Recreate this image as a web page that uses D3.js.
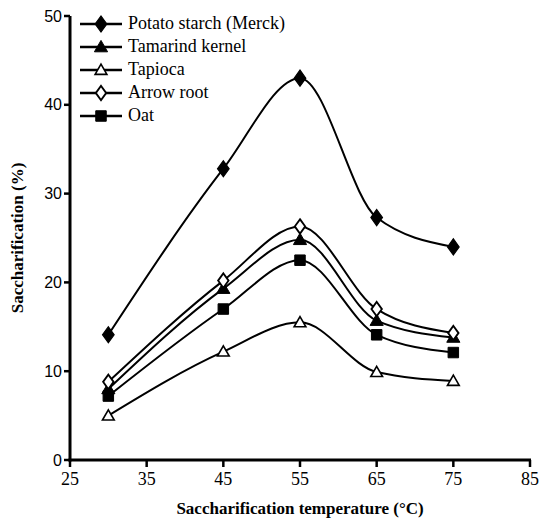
<!DOCTYPE html>
<html><head><meta charset="utf-8">
<script src="https://cdn.jsdelivr.net/npm/d3@7"></script>
</head><body style="margin:0;background:#fff">
<svg id="c" width="539" height="522" font-family="Liberation Serif"></svg>
<script>
const temps = [30, 45, 55, 65, 75];
const seriesNames = ["Potato starch (Merck)", "Tamarind kernel", "Tapioca", "Arrow root", "Oat"];
const potato = [14.1, 32.8, 43.0, 27.3, 24.0];
const tamarind = [8.0, 19.3, 24.8, 15.7, 13.8];
const tapioca = [5.0, 12.2, 15.5, 9.9, 8.9];
const arrowroot = [8.8, 20.2, 26.3, 17.0, 14.3];
const oat = [7.2, 17.0, 22.5, 14.1, 12.1];
const xTicks = [25, 35, 45, 55, 65, 75, 85];
const yTicks = [0, 10, 20, 30, 40, 50];
const markers = ["diamond", "triangle", "triangleOpen", "diamondOpen", "square"];
const allValues = [potato, tamarind, tapioca, arrowroot, oat];

const svg = d3.select("#c");
const x = d3.scaleLinear().domain([25, 85]).range([70, 530]);
const y = d3.scaleLinear().domain([0, 50]).range([460, 16]);

function drawMarker(g, type, cx, cy) {
  if (type.startsWith("diamond")) {
    const open = type === "diamondOpen";
    g.append("path").attr("d", d3.symbol(d3.symbolDiamond, open ? 60 : 75)()).attr("transform", `translate(${cx},${cy}) scale(1.25,1)`)
      .attr("fill", open ? "#fff" : "#000").attr("stroke", "#000").attr("stroke-width", open ? 1.6 : 1);
  } else if (type.startsWith("triangle")) {
    const open = type === "triangleOpen";
    g.append("path").attr("d", d3.symbol(d3.symbolTriangle, open ? 60 : 75)()).attr("transform", `translate(${cx},${cy + 1})`)
      .attr("fill", open ? "#fff" : "#000").attr("stroke", "#000").attr("stroke-width", open ? 1.6 : 1);
  } else {
    g.append("path").attr("d", d3.symbol(d3.symbolSquare, 110)()).attr("transform", `translate(${cx},${cy})`)
      .attr("fill", "#000").attr("stroke", "#000");
  }
}

// y axis (custom, sans labels)
const yAxis = svg.append("g").attr("transform", "translate(70,0)");
yAxis.append("path").attr("d", "M0,16V461.5").attr("stroke", "#000").attr("stroke-width", 3).attr("fill", "none");
yTicks.forEach(t => {
  yAxis.append("line").attr("x1", -6).attr("x2", 0).attr("y1", y(t)).attr("y2", y(t)).attr("stroke", "#000").attr("stroke-width", 2.5);
  yAxis.append("text").attr("x", -8).attr("y", y(t)).attr("dy", "0.35em").attr("text-anchor", "end")
    .attr("font-family", "Liberation Sans").attr("font-size", 16).attr("fill", "#000").text(t);
});

// x axis
const xAxis = svg.append("g").attr("transform", "translate(0,460)");
xAxis.append("path").attr("d", "M68.5,0H531").attr("stroke", "#000").attr("stroke-width", 3).attr("fill", "none");
xTicks.forEach(t => {
  xAxis.append("line").attr("x1", x(t)).attr("x2", x(t)).attr("y1", 0).attr("y2", 7).attr("stroke", "#000").attr("stroke-width", 2.5);
  xAxis.append("text").attr("x", x(t)).attr("y", 25).attr("text-anchor", "middle")
    .attr("font-family", "Liberation Serif").attr("font-size", 18).attr("fill", "#000").text(t);
});

svg.append("text").attr("font-family", "Liberation Serif").attr("x", 300).attr("y", 514).attr("text-anchor", "middle")
  .attr("font-weight", "bold").attr("font-size", 17)
  .text("Saccharification temperature (°C)");
svg.append("text").attr("font-family", "Liberation Serif").attr("transform", "translate(23,238) rotate(-90)").attr("text-anchor", "middle")
  .attr("font-weight", "bold").attr("font-size", 17)
  .text("Saccharification (%)");

const line = d3.line().x((d, i) => x(temps[i])).y(d => y(d)).curve(d3.curveMonotoneX);
const plot = svg.append("g");
allValues.forEach((vals) => {
  plot.append("path").attr("d", line(vals)).attr("fill", "none").attr("stroke", "#000").attr("stroke-width", 2);
});
allValues.forEach((vals, si) => {
  vals.forEach((v, i) => drawMarker(plot, markers[si], x(temps[i]), y(v)));
});

// legend
const leg = svg.append("g");
seriesNames.forEach((name, i) => {
  const ly = 24 + i * 23;
  leg.append("line").attr("x1", 80).attr("x2", 122).attr("y1", ly).attr("y2", ly).attr("stroke", "#000").attr("stroke-width", 2.5);
  drawMarker(leg, markers[i], 101, ly);
  leg.append("text").attr("font-family", "Liberation Serif").attr("x", 128).attr("y", ly + 5).attr("font-size", 18).attr("fill", "#000").text(name);
});
</script>
</body></html>
